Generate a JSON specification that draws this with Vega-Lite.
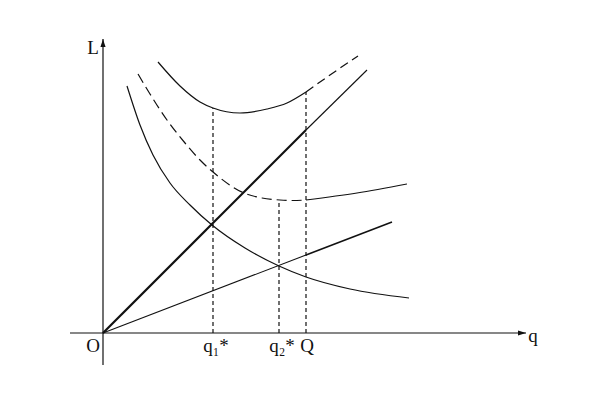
{
  "$schema": "https://vega.github.io/schema/vega-lite/v6.json",
  "width": 600,
  "height": 400,
  "autosize": {"type": "fit", "contains": "padding"},
  "padding": 0,
  "background": "white",
  "config": {"view": {"stroke": null}},
  "datasets": {
    "topSolid": [
      {"x": 55, "y": 271}, {"x": 77, "y": 247}, {"x": 97, "y": 231}, {"x": 110, "y": 225},
      {"x": 137, "y": 220}, {"x": 164, "y": 224}, {"x": 184, "y": 230}, {"x": 203, "y": 241}
    ],
    "topDashed": [
      {"x": 203, "y": 241}, {"x": 227, "y": 258}, {"x": 255, "y": 277}
    ],
    "midDashed": [
      {"x": 35, "y": 259}, {"x": 47, "y": 239}, {"x": 64, "y": 213}, {"x": 82, "y": 190},
      {"x": 97, "y": 173}, {"x": 110, "y": 161}, {"x": 141, "y": 140}, {"x": 159, "y": 135},
      {"x": 177, "y": 133}, {"x": 190, "y": 132.5}, {"x": 203, "y": 133}
    ],
    "midSolid": [
      {"x": 203, "y": 133}, {"x": 254, "y": 140}, {"x": 304, "y": 149}
    ],
    "falling": [
      {"x": 24, "y": 247}, {"x": 37, "y": 208}, {"x": 50, "y": 178}, {"x": 67, "y": 150},
      {"x": 87, "y": 128}, {"x": 109, "y": 108}, {"x": 142, "y": 85}, {"x": 176, "y": 67},
      {"x": 203, "y": 56}, {"x": 247, "y": 44}, {"x": 306, "y": 35}
    ],
    "diagThick": [{"x": 0, "y": 0}, {"x": 203, "y": 203}],
    "diagThin": [{"x": 203, "y": 203}, {"x": 264, "y": 263}],
    "lowThin": [{"x": 0, "y": 0}, {"x": 203, "y": 78}],
    "lowEnd": [{"x": 203, "y": 78}, {"x": 289, "y": 111}],
    "verticals": [
      {"x": 110, "y": 0, "y2": 225},
      {"x": 176, "y": 0, "y2": 133},
      {"x": 203, "y": 0, "y2": 241}
    ],
    "xAxis": [{"x": -33, "x2": 423, "y": 0}],
    "yAxis": [{"x": 0, "y": -32, "y2": 294}],
    "xArrow": [{"x": 423, "y": 0}],
    "yArrow": [{"x": 0, "y": 294}],
    "labels": [
      {"x": -10, "y": 279, "t": "L"},
      {"x": 430, "y": -9, "t": "q"},
      {"x": -10, "y": -19, "t": "O"},
      {"x": 113, "y": -19, "t": "q₁*"},
      {"x": 179, "y": -19, "t": "q₂*"},
      {"x": 204, "y": -19, "t": "Q"}
    ]
  },
  "encoding": {
    "x": {"field": "x", "type": "quantitative", "scale": {"domain": [-103, 497], "nice": false, "zero": false}, "axis": null},
    "y": {"field": "y", "type": "quantitative", "scale": {"domain": [-67, 333], "nice": false, "zero": false}, "axis": null}
  },
  "layer": [
    {"data": {"name": "xAxis"}, "mark": {"type": "rule", "color": "#111", "strokeWidth": 1.2}, "encoding": {"x2": {"field": "x2"}}},
    {"data": {"name": "yAxis"}, "mark": {"type": "rule", "color": "#111", "strokeWidth": 1.2}, "encoding": {"y2": {"field": "y2"}}},
    {"data": {"name": "xArrow"}, "mark": {"type": "point", "shape": "M0,0L-1,-0.32L-1,0.32Z", "size": 256, "filled": true, "color": "#111", "opacity": 1}},
    {"data": {"name": "yArrow"}, "mark": {"type": "point", "shape": "M0,0L-0.32,1L0.32,1Z", "size": 256, "filled": true, "color": "#111", "opacity": 1}},
    {"data": {"name": "verticals"}, "mark": {"type": "rule", "color": "#111", "strokeWidth": 1.2, "strokeDash": [4, 3]}, "encoding": {"y2": {"field": "y2"}}},
    {"data": {"name": "topSolid"}, "mark": {"type": "line", "color": "#111", "strokeWidth": 1.2, "interpolate": "monotone"}},
    {"data": {"name": "topDashed"}, "mark": {"type": "line", "color": "#111", "strokeWidth": 1.2, "strokeDash": [9, 5], "interpolate": "monotone"}},
    {"data": {"name": "midDashed"}, "mark": {"type": "line", "color": "#111", "strokeWidth": 1.2, "strokeDash": [10, 5], "interpolate": "monotone"}},
    {"data": {"name": "midSolid"}, "mark": {"type": "line", "color": "#111", "strokeWidth": 1.2, "interpolate": "monotone"}},
    {"data": {"name": "falling"}, "mark": {"type": "line", "color": "#111", "strokeWidth": 1.2, "interpolate": "monotone"}},
    {"data": {"name": "diagThick"}, "mark": {"type": "line", "color": "#111", "strokeWidth": 2.2}},
    {"data": {"name": "diagThin"}, "mark": {"type": "line", "color": "#111", "strokeWidth": 1.1}},
    {"data": {"name": "lowThin"}, "mark": {"type": "line", "color": "#111", "strokeWidth": 1.1}},
    {"data": {"name": "lowEnd"}, "mark": {"type": "line", "color": "#111", "strokeWidth": 1.6}},
    {"data": {"name": "labels"}, "mark": {"type": "text", "font": "Liberation Serif", "fontSize": 19, "color": "#111", "align": "center", "baseline": "alphabetic"}, "encoding": {"text": {"field": "t"}}}
  ]
}
